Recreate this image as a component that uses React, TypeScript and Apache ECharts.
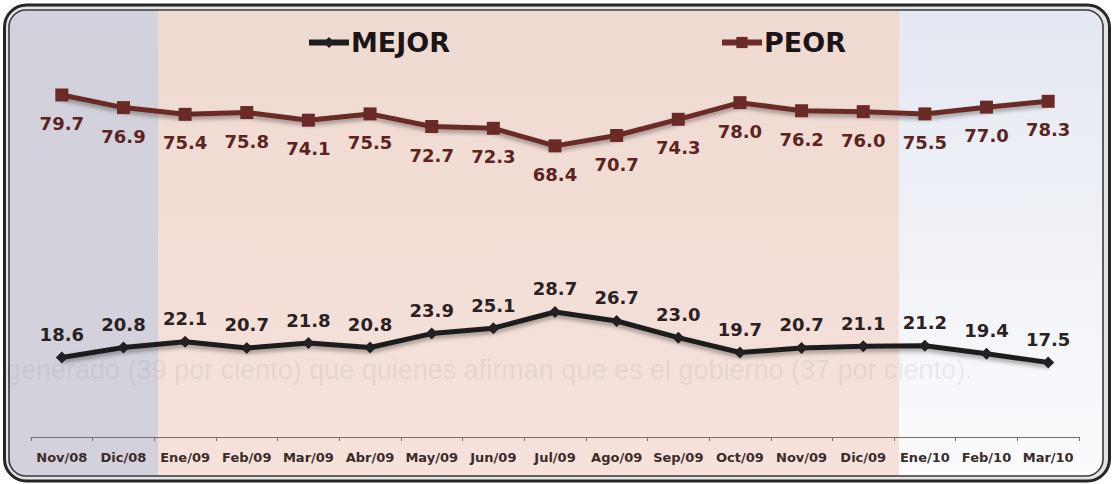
import React, { useEffect, useRef } from 'react';
import * as echarts from 'echarts';

const months = ['Nov/08', 'Dic/08', 'Ene/09', 'Feb/09', 'Mar/09', 'Abr/09', 'May/09', 'Jun/09', 'Jul/09', 'Ago/09', 'Sep/09', 'Oct/09', 'Nov/09', 'Dic/09', 'Ene/10', 'Feb/10', 'Mar/10'];
const mejor = [18.6, 20.8, 22.1, 20.7, 21.8, 20.8, 23.9, 25.1, 28.7, 26.7, 23.0, 19.7, 20.7, 21.1, 21.2, 19.4, 17.5];
const peor = [79.7, 76.9, 75.4, 75.8, 74.1, 75.5, 72.7, 72.3, 68.4, 70.7, 74.3, 78.0, 76.2, 76.0, 75.5, 77.0, 78.3];
const seriesNames = ['MEJOR', 'PEOR'];
const faintText = 'generado (39 por ciento) que quienes afirman que es el gobierno (37 por ciento).';

const FONT = 'DejaVu Sans';

export default function App() {
  const ref = useRef<HTMLDivElement>(null);
  useEffect(() => {
    if (!ref.current) return;
    const chart = echarts.init(ref.current, undefined, { renderer: 'svg' });
    const legendCommon = {
      orient: 'horizontal',
      top: 29,
      padding: 0,
      itemWidth: 40,
      itemHeight: 14,
      lineStyle: { width: 6 },
      textStyle: { fontFamily: FONT, fontWeight: 'bold', fontSize: 27, color: '#1b1517', padding: [0, 0, 0, -3] },
    };
    chart.setOption({
      animation: false,
      backgroundColor: '#ffffff',
      graphic: [
        { type: 'rect', z: -100, shape: { x: 4.5, y: 5, width: 1105, height: 476, r: 22 }, style: { fill: '#e4e4e6', stroke: '#262626', lineWidth: 3 } },
        { type: 'rect', z: -99, shape: { x: 9, y: 10, width: 150, height: 466, r: [17, 0, 0, 17] }, style: { fill: '#d3d2dc' } },
        { type: 'rect', z: -99, shape: { x: 158, y: 10, width: 742, height: 466 }, style: { fill: new echarts.graphic.LinearGradient(0, 0, 0, 1, [{ offset: 0, color: '#efdad2' }, { offset: 1, color: '#f6e2da' }]) } },
        { type: 'rect', z: -99, shape: { x: 899, y: 10, width: 204, height: 466, r: [0, 17, 17, 0] }, style: { fill: new echarts.graphic.LinearGradient(0, 0, 0, 1, [{ offset: 0, color: '#e4e8f1' }, { offset: 0.55, color: '#f1f3f8' }, { offset: 1, color: '#fbfbfd' }]) } },
        { type: 'text', z: -98, x: 6, y: 370, style: { text: faintText, font: '27px "Liberation Sans"', fill: 'rgba(90,90,105,0.10)', verticalAlign: 'middle' } },
        { type: 'rect', z: 100, shape: { x: 9, y: 10, width: 1094, height: 466, r: 17 }, style: { fill: 'none', stroke: '#3a3a3a', lineWidth: 1.6 } },
      ],
      legend: [
        { ...legendCommon, data: [seriesNames[0]], left: 306 },
        { ...legendCommon, data: [seriesNames[1]], left: 719 },
      ],
      grid: { left: 31, right: 33, top: 77, bottom: 47 },
      xAxis: {
        type: 'category',
        data: months,
        boundaryGap: true,
        axisLine: { lineStyle: { color: '#7a6c68', width: 1 } },
        axisTick: { show: true, length: 4, lineStyle: { color: '#7a6c68' } },
        axisLabel: { margin: 14, fontFamily: FONT, fontWeight: 'bold', fontSize: 13, color: '#3b2c2c', interval: 0 },
        splitLine: { show: false },
      },
      yAxis: [
        { type: 'value', min: 3.7, max: 83.7, show: false, splitLine: { show: false } },
        { type: 'value', min: 0.92, max: 80.92, show: false, splitLine: { show: false } },
      ],
      series: [
        {
          name: seriesNames[0],
          type: 'line',
          yAxisIndex: 1,
          data: mejor,
          symbol: 'diamond',
          symbolSize: 12,
          itemStyle: { color: '#222022' },
          lineStyle: { color: '#1e1c1d', width: 5, shadowColor: 'rgba(0,0,0,0.35)', shadowBlur: 4, shadowOffsetY: 3 },
          label: {
            show: true,
            position: 'top',
            distance: 8,
            formatter: (p: any) => Number(p.value).toFixed(1),
            fontFamily: FONT,
            fontWeight: 'bold',
            fontSize: 18,
            color: '#2a2222',
          },
        },
        {
          name: seriesNames[1],
          type: 'line',
          yAxisIndex: 0,
          data: peor,
          symbol: 'rect',
          symbolSize: 13,
          itemStyle: { color: '#6a2a26' },
          lineStyle: { color: '#6a2a26', width: 5, shadowColor: 'rgba(0,0,0,0.35)', shadowBlur: 4, shadowOffsetY: 3 },
          label: {
            show: true,
            position: 'bottom',
            distance: 13,
            formatter: (p: any) => Number(p.value).toFixed(1),
            fontFamily: FONT,
            fontWeight: 'bold',
            fontSize: 18,
            color: '#5c2420',
          },
        },
      ],
    });
    return () => chart.dispose();
  }, []);
  return <div ref={ref} style={{ position: 'fixed', left: 0, top: 0, width: 1112, height: 484 }} />;
}
